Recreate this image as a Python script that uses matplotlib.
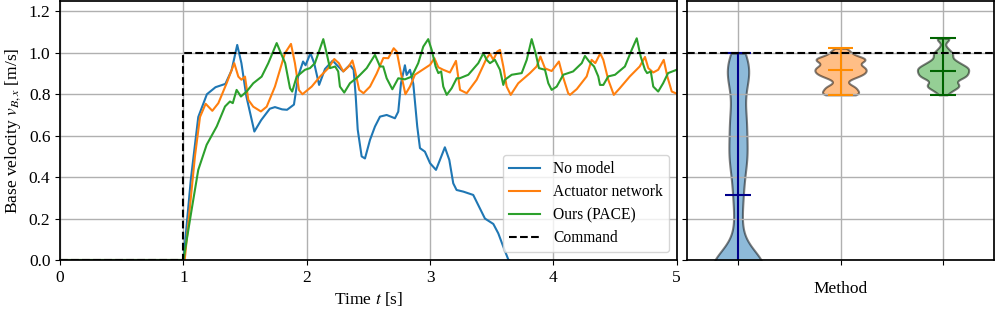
import matplotlib
matplotlib.use("Agg")
import matplotlib.pyplot as plt
import numpy as np

plt.rcParams.update({
    "font.family": "Liberation Serif",
    "mathtext.fontset": "stix",
    "font.size": 12.5,
    "legend.fontsize": 11.2,
    "axes.linewidth": 1.25,
})

# ---- time series (time [s], velocity [m/s]) ----
t_nomodel = [0.0, 1.0, 1.06, 1.12, 1.19, 1.26, 1.34, 1.39, 1.436, 1.47, 1.51, 1.575, 1.63,
             1.70, 1.742, 1.80, 1.84, 1.896, 1.93, 1.97, 1.99, 2.03, 2.06, 2.10, 2.148,
             2.21, 2.255, 2.296, 2.35, 2.38, 2.397, 2.413, 2.445, 2.472, 2.513, 2.553,
             2.594, 2.648, 2.69, 2.715, 2.742, 2.764, 2.796, 2.81, 2.837, 2.864, 2.896,
             2.918, 2.958, 3.0, 3.048, 3.08, 3.12, 3.156, 3.188, 3.215, 3.27, 3.35, 3.39,
             3.445, 3.513, 3.553, 3.594, 3.634,
             3.68, 3.72, 3.77, 3.81, 3.86, 3.90, 3.95, 3.99, 4.04, 4.08, 4.13, 4.17, 4.22,
             4.26, 4.31, 4.35, 4.40, 4.44, 4.49, 4.53, 4.58, 4.62, 4.67, 4.71, 4.76, 4.80,
             4.85, 4.89, 4.94, 5.00]
v_nomodel = [0.0, 0.0, 0.39, 0.69, 0.80, 0.834, 0.85, 0.915, 1.038, 0.95, 0.79, 0.62, 0.675,
             0.73, 0.738, 0.727, 0.725, 0.75, 0.886, 0.958, 0.94, 0.998, 0.95, 0.845, 0.922,
             0.962, 0.934, 0.91, 0.942, 0.918, 0.79, 0.63, 0.50, 0.49, 0.58, 0.644,
             0.692, 0.70, 0.69, 0.684, 0.716, 0.853, 0.94, 0.893, 0.918, 0.85, 0.644,
             0.54, 0.523, 0.467, 0.435, 0.483, 0.544, 0.483, 0.37, 0.338, 0.33, 0.314, 0.266,
             0.20, 0.174, 0.129, 0.064, 0.003,
             -0.02, -0.03, -0.04, -0.05, -0.04, -0.05, -0.06, -0.05, -0.04, -0.05, -0.06,
             -0.05, -0.04, -0.03, -0.04, -0.05, -0.06, -0.05, -0.04, -0.05, -0.04, -0.03,
             -0.04, -0.05, -0.06, -0.05, -0.04, -0.05, -0.04, -0.05]

t_actnet = [0.0, 1.01, 1.093, 1.134, 1.18, 1.234, 1.283, 1.35, 1.412, 1.445, 1.47, 1.499,
            1.526, 1.566, 1.628, 1.675, 1.742, 1.823, 1.872, 1.904, 1.937, 1.965, 2.04,
            2.107, 2.175, 2.223, 2.26, 2.296, 2.34, 2.37, 2.39, 2.425, 2.46, 2.513, 2.567,
            2.621, 2.661, 2.705, 2.73, 2.764, 2.80, 2.837, 2.877, 2.918, 3.0, 3.035, 3.067,
            3.107, 3.161, 3.21, 3.243, 3.297, 3.378, 3.459, 3.486, 3.513, 3.545, 3.567,
            3.594, 3.621, 3.654, 3.715, 3.81, 3.864, 3.895, 3.932, 3.986, 4.045, 4.075,
            4.12, 4.135, 4.19, 4.27, 4.31, 4.34, 4.38, 4.405, 4.445, 4.49, 4.54, 4.62,
            4.70, 4.743, 4.77, 4.81, 4.85, 4.895, 4.924, 4.96, 5.0]
v_actnet = [0.0, 0.0, 0.50, 0.69, 0.754, 0.72, 0.757, 0.853, 0.95, 0.885, 0.87, 0.885,
            0.773, 0.74, 0.717, 0.74, 0.837, 0.998, 1.043, 0.95, 0.82, 0.80, 0.837,
            0.885, 0.926, 0.97, 0.95, 0.91, 0.934, 0.963, 0.918, 0.821, 0.805, 0.837, 0.90,
            0.975, 0.974, 1.022, 1.006, 0.90, 0.80, 0.837, 0.894, 0.91, 0.942, 0.974, 0.93,
            0.918, 0.905, 0.961, 0.821, 0.805, 0.87, 0.974, 0.995, 0.966, 1.006, 1.014,
            0.934, 0.837, 0.797, 0.853, 0.902, 0.934, 0.982, 0.925, 0.912, 0.958, 0.89,
            0.805, 0.797, 0.825, 0.886, 0.966, 0.95, 0.997, 0.966, 0.87, 0.797, 0.83, 0.886,
            0.934, 0.98, 0.926, 0.905, 0.918, 0.966, 0.886, 0.813, 0.803]

t_pace = [0.0, 1.0, 1.066, 1.12, 1.188, 1.27, 1.337, 1.377, 1.40, 1.431, 1.466, 1.512,
          1.566, 1.634, 1.688, 1.756, 1.796, 1.825, 1.864, 1.882, 1.918, 1.985, 2.026,
          2.066, 2.134, 2.161, 2.188, 2.23, 2.255, 2.269, 2.304, 2.35, 2.418, 2.486, 2.553,
          2.594, 2.62, 2.648, 2.694, 2.742, 2.796, 2.851, 2.904, 2.945, 2.985, 3.013,
          3.045, 3.067, 3.09, 3.107, 3.135, 3.175, 3.216, 3.24, 3.31, 3.391, 3.432, 3.459,
          3.486, 3.526, 3.567, 3.594, 3.607, 3.662, 3.743, 3.784, 3.824, 3.856, 3.883,
          3.932, 3.959, 3.986, 4.027, 4.08, 4.16, 4.23, 4.256, 4.29, 4.33, 4.364, 4.378,
          4.405, 4.445, 4.5, 4.58, 4.635, 4.676, 4.708, 4.743, 4.76, 4.79, 4.81, 4.85,
          4.89, 4.93, 5.0]
v_pace = [0.0, 0.0, 0.242, 0.435, 0.556, 0.645, 0.741, 0.765, 0.757, 0.821, 0.789, 0.813,
          0.853, 0.885, 0.95, 1.047, 0.99, 0.95, 0.829, 0.813, 0.885, 0.918, 0.926,
          0.95, 1.066, 0.998, 0.926, 0.934, 0.91, 0.837, 0.808, 0.853, 0.885, 0.926, 0.99,
          0.934, 0.934, 0.877, 0.824, 0.877, 0.872, 0.885, 0.95, 1.03, 1.066, 1.014,
          0.934, 0.902, 0.91, 0.837, 0.797, 0.829, 0.877, 0.877, 0.894, 0.95, 0.998, 0.966,
          0.95, 0.966, 0.918, 0.845, 0.87, 0.894, 0.902, 0.966, 1.066, 0.998, 0.926,
          0.918, 0.853, 0.821, 0.837, 0.894, 0.91, 0.95, 0.985, 0.958, 0.934, 0.886, 0.845,
          0.845, 0.886, 0.894, 0.934, 1.014, 1.07, 0.982, 0.918, 0.902, 0.91, 0.837, 0.813,
          0.853, 0.902, 0.918]

t_cmd = [0.0, 1.0, 1.0, 5.0]
v_cmd = [0.0, 0.0, 1.0, 1.0]

labels = ["No model", "Actuator network", "Ours (PACE)"]
colors = ["C0", "C1", "C2"]
line_colors = ["darkblue", "darkorange", "darkgreen"]
steady_start = 2.0  # violins use the steady-state part of each run

fig = plt.figure(figsize=(9.96, 3.13), dpi=100)
ax = fig.add_axes([0.0604, 0.1693, 0.619, 0.8275])
ax2 = fig.add_axes([0.6895, 0.1693, 0.3088, 0.8275], sharey=ax)

series = [(t_nomodel, v_nomodel), (t_actnet, v_actnet), (t_pace, v_pace)]
for (t, v), lab, c in zip(series, labels, colors):
    ax.plot(t, v, color=c, lw=1.5, label=lab)
ax.plot(t_cmd, v_cmd, "k--", lw=1.5, label="Command")

ax.set_xlim(0, 5)
ax.set_ylim(0, 1.25)
ax.set_yticks(np.arange(0, 1.21, 0.2))
ax.set_xlabel("Time $t$ [s]", labelpad=3)
ax.set_ylabel("Base velocity $v_{B,x}$ [m/s]", labelpad=4)
ax.grid(True, color="#b0b0b0", lw=1.0)
ax.legend(loc="lower right", borderaxespad=0.5, handlelength=2.0, labelspacing=0.45)

# ---- violin panel ----
steady = [np.array(v)[np.array(t) >= steady_start] for t, v in series]
parts = ax2.violinplot(steady, positions=[1, 2, 3], widths=0.5, showmedians=True,
                       bw_method=0.22)
for body, c in zip(parts["bodies"], colors):
    body.set_facecolor(c)
    body.set_edgecolor("black")
    body.set_linewidth(1.5)
    body.set_alpha(0.5)
for key in ["cbars", "cmins", "cmaxes", "cmedians"]:
    parts[key].set_color(line_colors)
    parts[key].set_linewidth(1.5)
ax2.axhline(1.0, color="k", ls="--", lw=1.5)
ax2.set_xlim(0.5, 3.5)
ax2.set_xticks([1, 2, 3])
ax2.set_xticklabels([])
ax2.tick_params(labelleft=False)
ax2.set_xlabel("Method", labelpad=8)
ax2.grid(True, color="#b0b0b0", lw=1.0)

fig.savefig("out.png", dpi=100)
